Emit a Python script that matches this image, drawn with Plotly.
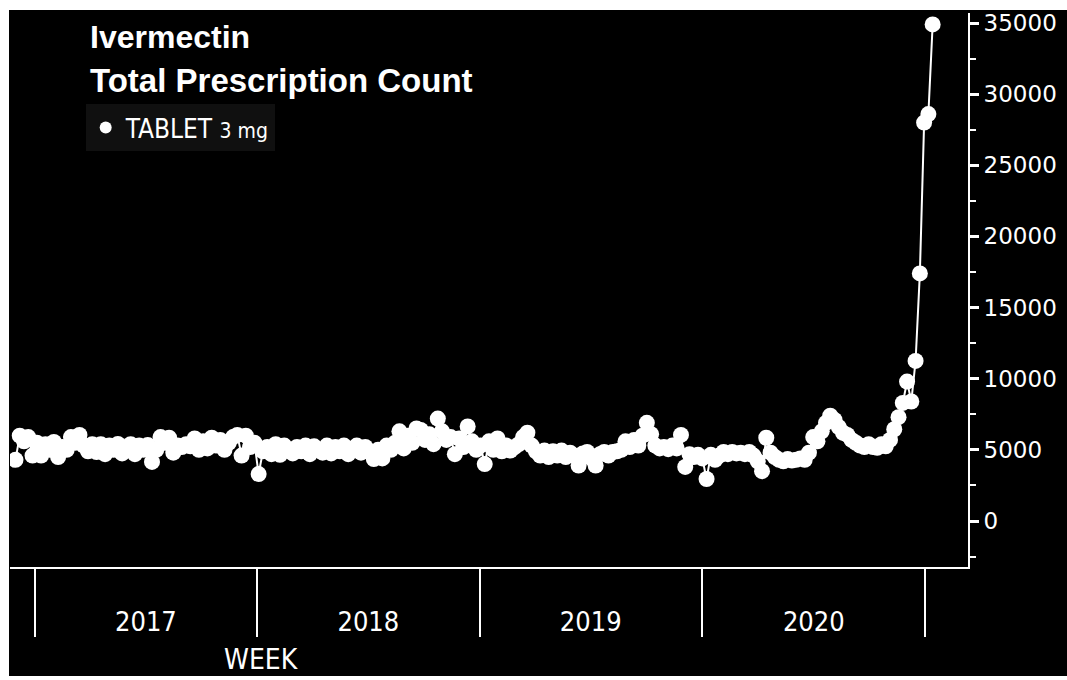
import pandas as pd
import plotly.graph_objects as go

# ---- data: weekly total prescription count, Ivermectin TABLET 3 mg ----
start_week = "2016-11-30"
vals_2016 = [4300, 6000, 5600, 5900, 4600]
vals_2017 = [5500, 4600, 5400, 5000, 5550, 4500, 5200, 5000, 5900, 5500,
             6050, 5300, 4900, 5400, 4850, 5400, 4700, 5300, 5000, 5420,
             4750, 5200, 5400, 4700, 5300, 5000, 5350, 4150, 5000, 5900,
             5500, 5850, 4800, 5300, 5200, 5400, 5250, 5800, 5000, 5600,
             5100, 5850, 5300, 5700, 5000, 5500, 5900, 6050, 4600, 6000,
             5200, 5500, 3300]
vals_2018 = [4900, 5200, 4700, 5400, 4650, 5300, 5000, 4750, 5200, 4900,
             5300, 4700, 5250, 5000, 4800, 5300, 4750, 5200, 4900, 5300,
             4700, 5100, 5300, 4800, 5200, 4900, 4350, 5000, 4400, 5300,
             5000, 5500, 6300, 5100, 6000, 5500, 6500, 6400, 5700, 6100,
             5400, 7200, 6300, 5700, 5900, 4700, 5800, 5200, 6650, 5600,
             5000, 5300]
vals_2019 = [4000, 5600, 5000, 5800, 4900, 5300, 4950, 5200, 5400, 5900,
             6200, 5300, 4900, 4600, 4950, 4500, 4900, 4600, 4950, 4500,
             4800, 4600, 3900, 4750, 4850, 4400, 3900, 4700, 4850, 4600,
             4850, 4900, 5000, 5600, 5200, 5700, 5300, 6000, 6900, 6100,
             5300, 5100, 5200, 5050, 5300, 5100, 6050, 3800, 4700, 4500,
             4650, 4400]
vals_2020 = [2950, 4650, 4300, 4600, 4850, 4700, 4850, 4750, 4800, 4700,
             4850, 4600, 4200, 3500, 5850, 4800, 4500, 4300, 4200, 4350,
             4250, 4300, 4400, 4300, 4800, 5900, 5600, 6300, 6900, 7400,
             7100, 6600, 6200, 6050, 5700, 5500, 5300, 5200, 5400, 5200,
             5150, 5400, 5250, 5700, 6450, 7300, 8300, 9800, 8400, 11250,
             17400, 28000]
vals_2021 = [28600, 34900]

year_labels = ["2017", "2018", "2019", "2020"]
year_label_pos = ["2017-07-02", "2018-07-02", "2019-07-02", "2020-07-02"]
year_bounds = ["2017-01-01", "2018-01-01", "2019-01-01", "2020-01-01", "2021-01-01"]
y_ticks = [0, 5000, 10000, 15000, 20000, 25000, 30000, 35000]

series_name = "TABLET <span style='font-size:21px'>3 mg</span>"

values = vals_2016 + vals_2017 + vals_2018 + vals_2019 + vals_2020 + vals_2021
weeks = pd.date_range(start=start_week, periods=len(values), freq="7D")

W, H = 1067, 680
L, R, T, B = 10, 95, 13, 113
plot_w = W - L - R
plot_h = H - T - B


def px_x(p):
    return (p - L) / plot_w


def px_y(p):
    return (H - B - p) / plot_h


narrow = "Liberation Sans Narrow, DejaVu Sans Condensed, Arial Narrow, Liberation Sans, sans-serif"

fig = go.Figure()
fig.add_trace(go.Scatter(
    x=weeks, y=values, mode="lines+markers",
    line=dict(color="white", width=2),
    marker=dict(color="white", size=16, line=dict(width=0)),
    showlegend=False,
))
# legend entry
fig.add_trace(go.Scatter(
    x=[None], y=[None], mode="markers", name=series_name,
    marker=dict(color="white", size=12),
    showlegend=True,
))

fig.update_layout(
    width=W, height=H,
    margin=dict(l=L, r=R, t=T, b=B, pad=0),
    paper_bgcolor="black", plot_bgcolor="black",
    legend=dict(
        x=px_x(86), y=px_y(104), xanchor="left", yanchor="top",
        bgcolor="#101010", borderwidth=0,
        font=dict(family=narrow, size=26, color="white"),
        itemwidth=30,
    ),
    xaxis=dict(
        range=["2016-11-21", "2021-03-12"],
        showgrid=False, zeroline=False,
        showline=True, linecolor="white", linewidth=2,
        tickmode="array", tickvals=year_label_pos, ticktext=year_labels,
        ticks="", ticklabelstandoff=30,
        tickfont=dict(family=narrow, size=27, color="white"),
        minor=dict(tickmode="array", tickvals=year_bounds, ticks="outside",
                   ticklen=68, tickwidth=1.5, tickcolor="white", showgrid=False),
    ),
    yaxis=dict(
        side="right",
        range=[-3233, 35703],
        showgrid=False, zeroline=False,
        showline=True, linecolor="white", linewidth=2,
        tickmode="array", tickvals=y_ticks, tickformat="d",
        ticks="outside", ticklen=9, tickwidth=3, tickcolor="white",
        tickfont=dict(family="DejaVu Sans", size=23, color="white"),
        minor=dict(dtick=2500, tick0=0, ticks="outside", ticklen=6,
                   tickwidth=1.5, tickcolor="white", showgrid=False),
    ),
    annotations=[
        dict(text="<b>Ivermectin</b>", xref="paper", yref="paper",
             x=px_x(88), y=px_y(37), xanchor="left", yanchor="middle",
             showarrow=False,
             font=dict(family="Liberation Sans", size=32, color="white")),
        dict(text="<b>Total Prescription Count</b>", xref="paper", yref="paper",
             x=px_x(88), y=px_y(81), xanchor="left", yanchor="middle",
             showarrow=False,
             font=dict(family="Liberation Sans", size=33, color="white")),
        dict(text="WEEK", xref="paper", yref="paper",
             x=px_x(263), y=px_y(659), xanchor="center", yanchor="middle",
             showarrow=False,
             font=dict(family=narrow, size=28, color="white")),
    ],
    shapes=[
        # white page margins around the black chart panel
        dict(type="rect", xref="paper", yref="paper", layer="above",
             x0=px_x(-5), x1=px_x(9), y0=px_y(-5), y1=px_y(H + 5),
             fillcolor="white", line=dict(width=0)),
        dict(type="rect", xref="paper", yref="paper", layer="above",
             x0=px_x(-5), x1=px_x(W + 5), y0=px_y(10), y1=px_y(-5),
             fillcolor="white", line=dict(width=0)),
        dict(type="rect", xref="paper", yref="paper", layer="above",
             x0=px_x(-5), x1=px_x(W + 5), y0=px_y(H + 5), y1=px_y(676),
             fillcolor="white", line=dict(width=0)),
    ],
)

fig.write_html(
    "out.html",
    config={"displayModeBar": False},
    post_script="document.body.style.margin='0';document.body.style.overflow='hidden';",
)
